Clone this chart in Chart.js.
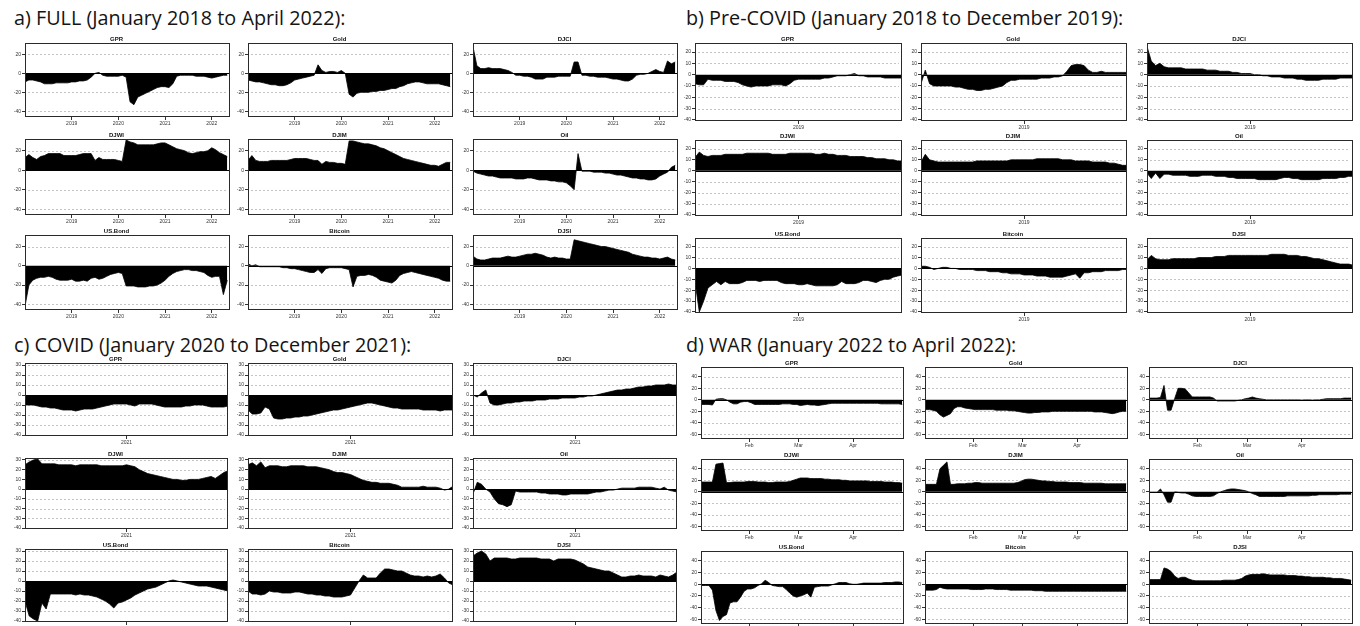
<!DOCTYPE html>
<html><head><meta charset="utf-8">
<script src="https://cdn.jsdelivr.net/npm/chart.js@4.4.1/dist/chart.umd.min.js"></script>
<style>
html,body{margin:0;padding:0;width:1360px;height:626px;overflow:hidden;background:#fff;position:relative}
.pt{position:absolute;font-family:'Open Sans',Lato,sans-serif;font-size:19.8px;line-height:19.8px;color:#141414;white-space:nowrap}
canvas{position:absolute}
</style></head><body>
<div class="pt" style="left:14px;top:7.5px">a) FULL (January 2018 to April 2022):</div>
<div class="pt" style="left:686px;top:7.5px">b) Pre-COVID (January 2018 to December 2019):</div>
<div class="pt" style="left:14px;top:334.5px">c) COVID (January 2020 to December 2021):</div>
<div class="pt" style="left:686px;top:334.5px">d) WAR (January 2022 to April 2022):</div>
<script>
const seriesNames = ['GPR','Gold','DJCI','DJWI','DJIM','Oil','US.Bond','Bitcoin','DJSI'];

// ---- Panel a: months since Jan 2018 ----
const tA = [0,1,2,3,4,5,6,7,8,9,10,11,12,13,14,15,16,17,18,19,20,21,22,23,24,25,26,27,28,29,30,31,32,33,34,35,36,37,38,39,40,41,42,43,44,45,46,47,48,49,50,51,52];
const xTicksA = [12,24,36,48];
const xLabelsA = ['2019','2020','2021','2022'];
const yTicksA = [-40,-20,0,20];
const gprA = [-9,-7,-7,-8,-9,-11,-11,-11,-10,-10, -10,-10,-9,-9,-8,-8,-7,-4,0,1, -2,-3,-3,-3,-3,-2,-4,-30,-33,-25, -23,-21,-19,-17,-15,-14,-14,-15,-11,-3, -2,-2,-2,-2,-3,-3,-3,-4,-5,-4, -3,-2,-2];
const goldA = [-7,-8,-9,-9,-10,-11,-12,-12,-13,-13, -12,-10,-7,-6,-5,-4,-3,-2,9,3, 1,2,2,1,3,0,-22,-25,-21,-20, -20,-20,-19,-19,-18,-18,-17,-16,-16,-14, -13,-11,-10,-9,-9,-10,-11,-11,-11,-11, -12,-13,-14];
const djciA = [28,8,5,5,6,5,5,5,4,3, 1,-2,-2,-3,-3,-4,-6,-6,-6,-4, -4,-4,-3,-3,-3,-3,12,12,-2,-2, -3,-3,-4,-4,-4,-5,-6,-6,-7,-8, -8,-6,-2,-1,-1,0,2,4,2,1, 13,10,12];
const djwiA = [13,16,13,11,14,15,17,17,17,17, 15,15,15,15,16,17,17,17,10,13, 11,11,11,11,10,9,31,29,28,26, 26,26,26,26,27,28,28,26,24,22, 21,20,18,17,18,19,19,20,23,21, 18,16,14];
const djimA = [10,15,10,9,9,9,10,10,10,10, 10,11,12,12,12,12,11,10,10,6, 9,8,8,7,7,6,30,30,29,28, 27,27,26,25,23,22,20,18,16,14, 12,11,10,9,8,7,6,5,5,4, 6,8,8];
const oilA = [-1,-3,-4,-5,-6,-6,-7,-8,-8,-8, -8,-9,-9,-9,-8,-8,-9,-10,-10,-10, -11,-11,-12,-12,-13,-16,-20,17,-1,-1, -1,-2,-2,-2,-3,-3,-4,-5,-5,-6, -7,-8,-8,-9,-9,-10,-10,-9,-6,-4, -2,3,5];
const usbondA = [-42,-20,-15,-13,-12,-12,-11,-12,-14,-15, -15,-15,-14,-16,-16,-15,-16,-13,-12,-14, -13,-11,-9,-8,-7,-8,-21,-21,-21,-22, -22,-22,-21,-21,-20,-18,-15,-11,-8,-6, -5,-4,-4,-5,-5,-6,-7,-10,-12,-11, -11,-30,-15];
const bitcoinA = [2,0,1,-1,-1,-1,-1,-1,-1,-2, -2,-3,-3,-4,-5,-6,-7,-7,-4,-8, -3,-2,-2,-2,-2,-3,-4,-22,-11,-10, -10,-9,-10,-12,-15,-16,-17,-18,-15,-10, -8,-7,-6,-7,-8,-9,-10,-11,-12,-13, -15,-16,-16];
const djsiA = [10,7,6,6,7,8,8,8,9,10, 9,9,10,11,12,12,13,12,11,9, 8,9,8,8,7,7,27,26,25,24, 23,22,21,20,20,19,18,17,16,15, 14,12,11,10,9,9,8,8,7,8, 9,7,6];

// ---- Panel b: months since Jan 2018 (half-month steps) ----
const tB = [0,0.5,1,1.5,2,2.5,3,3.5,4,4.5,5,5.5,6,6.5,7,7.5,8,8.5,9,9.5,10,10.5,11,11.5,12,12.5,13,13.5,14,14.5,15,15.5,16,16.5,17,17.5,18,18.5,19,19.5,20,20.5,21,21.5,22,22.5,23,23.5,24];
const xTicksB = [12];
const xLabelsB = ['2019'];
const yTicksB = [-40,-30,-20,-10,0,10,20];
const gprB = [-8,-9,-9,-4,-5,-5,-5,-6,-6,-6, -7,-9,-10,-11,-10,-10,-10,-10,-9,-9, -9,-10,-8,-5,-4,-4,-4,-4,-4,-4, -3,-3,-2,-1,-1,-1,0,1,-1,-1, -2,-2,-2,-2,-3,-3,-3,-3,-3];
const goldB = [-8,4,-8,-10,-10,-10,-10,-10,-11,-11, -12,-13,-13,-14,-14,-13,-13,-12,-11,-10, -7,-5,-5,-4,-4,-4,-4,-4,-3,-3, -3,-2,-2,-1,3,8,9,9,8,4, 2,2,3,2,2,2,2,2,2];
const djciB = [25,12,8,10,7,6,6,6,6,5, 5,5,5,5,4,4,4,3,3,3, 2,2,1,1,1,0,0,-1,-1,-2, -2,-2,-3,-3,-3,-4,-4,-5,-5,-5, -5,-4,-4,-4,-4,-3,-3,-3,-3];
const djwiB = [12,17,14,13,14,14,14,15,15,15, 15,15,16,16,16,16,16,16,15,15, 15,15,16,16,16,16,16,16,15,15, 16,15,15,14,14,14,13,13,13,13, 12,12,11,11,11,10,10,9,9];
const djimB = [8,15,10,9,8,8,8,8,8,8, 8,8,8,9,9,9,9,9,9,9, 9,10,10,10,10,10,10,11,11,11, 11,11,11,10,10,10,9,9,9,9, 8,8,8,8,7,7,6,5,5];
const oilB = [-2,-7,-2,-7,-3,-3,-4,-4,-4,-4, -5,-5,-5,-4,-4,-4,-5,-5,-5,-6, -6,-7,-7,-7,-7,-7,-8,-8,-8,-8, -8,-7,-6,-6,-7,-7,-8,-8,-8,-8, -8,-7,-7,-7,-7,-6,-6,-5,-5];
const usbondB = [-12,-40,-30,-18,-15,-12,-15,-12,-14,-14, -14,-13,-11,-11,-11,-12,-11,-11,-11,-11, -13,-14,-14,-14,-15,-15,-14,-15,-16,-16, -16,-16,-16,-15,-12,-14,-14,-14,-13,-11, -11,-12,-13,-11,-10,-10,-8,-7,-6];
const bitcoinB = [2,2,1,-1,0,1,1,0,0,-1, -1,-1,-1,-2,-2,-2,-3,-3,-3,-4, -4,-5,-5,-5,-6,-6,-6,-7,-7,-7, -8,-8,-8,-8,-7,-6,-5,-9,-4,-4, -3,-3,-3,-2,-2,-2,-2,-1,-1];
const djsiB = [8,12,9,8,8,8,9,9,9,9, 9,9,10,10,10,10,11,11,11,12, 12,12,12,12,12,12,12,12,12,13, 13,13,13,12,12,12,11,11,10,9, 9,8,7,6,5,4,4,4,3];

// ---- Panel c: months since Jan 2020 (half-month steps) ----
const tC = [0,0.5,1,1.5,2,2.5,3,3.5,4,4.5,5,5.5,6,6.5,7,7.5,8,8.5,9,9.5,10,10.5,11,11.5,12,12.5,13,13.5,14,14.5,15,15.5,16,16.5,17,17.5,18,18.5,19,19.5,20,20.5,21,21.5,22,22.5,23,23.5,24];
const xTicksC = [12];
const xLabelsC = ['2021'];
const yTicksC = [-40,-30,-20,-10,0,10,20,30];
const gprC = [-10,-10,-10,-11,-12,-12,-13,-13,-14,-15, -15,-15,-16,-15,-14,-14,-14,-13,-12,-11, -10,-9,-9,-9,-9,-10,-11,-9,-9,-9, -9,-10,-11,-12,-12,-12,-12,-12,-11,-11, -10,-10,-10,-11,-12,-12,-12,-12,-11];
const goldC = [-15,-19,-19,-18,-12,-14,-23,-24,-24,-23, -23,-22,-22,-21,-21,-20,-19,-18,-17,-16, -15,-15,-14,-13,-12,-11,-10,-9,-8,-8, -9,-10,-11,-12,-13,-13,-14,-14,-14,-14, -14,-15,-15,-15,-15,-16,-15,-15,-15];
const djciC = [0,-2,2,5,-8,-10,-10,-9,-8,-8, -7,-7,-6,-6,-6,-5,-5,-5,-4,-4, -4,-3,-3,-3,-3,-2,-2,-1,-1,0, 1,2,3,4,5,5,6,6,7,8, 8,9,9,10,10,10,11,10,10];
const djwiC = [25,28,30,31,26,26,26,26,25,25, 25,25,24,25,25,25,25,25,24,24, 24,24,24,24,25,24,23,20,18,16, 15,14,13,12,11,10,10,9,9,10, 10,10,11,12,13,11,14,17,19];
const djimC = [25,27,24,28,22,24,24,24,23,23, 24,24,24,24,23,23,23,22,21,20, 18,17,17,16,15,13,11,9,8,7, 7,6,6,6,5,4,2,2,2,2, 2,3,2,2,2,1,-1,0,3];
const oilC = [-5,7,5,0,-3,-10,-15,-16,-18,-16, -2,-3,-3,-3,-3,-3,-4,-4,-5,-5, -5,-6,-6,-5,-5,-5,-5,-5,-4,-3, -3,-2,-1,-1,0,1,1,1,1,2, 2,2,2,1,0,2,-1,-2,-3];
const usbondC = [-20,-35,-38,-40,-22,-28,-13,-13,-13,-13, -13,-13,-14,-13,-14,-14,-15,-16,-18,-20, -23,-27,-22,-21,-19,-17,-14,-12,-10,-8, -7,-6,-4,-2,0,1,0,-1,-2,-3, -4,-5,-5,-5,-6,-7,-8,-9,-10];
const bitcoinC = [-10,-13,-13,-14,-13,-10,-11,-11,-12,-12, -12,-11,-11,-12,-13,-13,-14,-14,-15,-15, -16,-16,-16,-15,-14,-7,0,6,3,3, 3,8,12,12,11,10,10,8,6,5, 5,4,5,4,5,7,3,-2,-4];
const djsiC = [25,28,30,27,20,23,23,23,23,22, 22,23,23,23,23,23,22,22,22,20, 22,22,22,22,21,19,17,14,13,12, 11,10,10,8,6,4,4,5,5,6, 5,5,5,4,6,5,4,6,9];

// ---- Panel d: days since 1 Jan 2022 ----
const tD = [4,6,8,10,12,14,16,18,20,22,24,26,28,30,32,34,36,38,40,42,44,46,48,50,52,54,56,58,60,62,64,66,68,70,72,74,76,78,80,82,84,86,88,90,92,94,96,98,100,102,104,106,108,110,112,114,116,118];
const xTicksD = [31,59,90];
const xLabelsD = ['Feb','Mar','Apr'];
const yTicksD = [-60,-40,-20,0,20,40];
const gprD = [-8,-8,-8,-9,1,2,2,0,-4,-7, -7,-4,-3,-3,-5,-8,-8,-8,-8,-8, -8,-8,-8,-7,-7,-7,-8,-8,-10,-9, -8,-9,-9,-10,-9,-8,-7,-6,-6,-6, -6,-6,-6,-6,-6,-6,-6,-6,-6,-6, -6,-7,-7,-7,-7,-7,-7,-8];
const goldD = [-17,-17,-18,-20,-26,-30,-27,-24,-15,-12, -12,-14,-15,-16,-17,-17,-17,-17,-17,-17, -18,-18,-18,-18,-19,-19,-20,-21,-22,-23, -23,-22,-22,-21,-21,-21,-20,-20,-20,-20, -20,-20,-20,-20,-20,-20,-20,-20,-21,-21, -21,-22,-23,-24,-23,-21,-20,-20];
const djciD = [3,3,3,4,25,-18,-18,2,20,20, 19,12,5,5,5,5,5,5,3,-2, -2,-2,-2,-2,-2,-1,0,2,3,5, 3,2,1,0,0,0,0,0,0,0, 0,0,0,-1,0,0,-1,0,0,1, 2,2,2,2,2,3,3,3];
const djwiD = [17,17,17,17,48,49,50,16,16,17, 17,17,17,18,18,18,17,17,17,16, 16,17,17,17,17,18,20,22,24,24, 24,23,23,23,23,22,22,21,21,21, 20,20,19,19,19,19,19,19,18,18, 18,18,17,17,17,16,16,15];
const djimD = [13,13,13,13,40,46,52,13,13,14, 14,14,15,15,16,16,15,15,15,15, 15,15,15,15,15,15,16,18,21,22, 22,21,20,19,19,18,18,17,17,17, 17,16,16,16,16,15,15,15,15,15, 15,14,14,14,14,14,14,14];
const oilD = [-1,-1,-1,5,-5,-18,-18,0,-1,-2, -2,-4,-7,-8,-8,-8,-8,-8,-7,-3, 0,2,4,5,5,4,3,2,0,-3, -5,-8,-8,-8,-8,-8,-8,-8,-8,-7, -7,-7,-7,-7,-7,-7,-6,-6,-5,-5, -5,-5,-5,-5,-4,-4,-4,-4];
const usbondD = [-2,-2,-2,-10,-45,-62,-55,-52,-32,-30, -30,-22,-12,-8,-8,-6,-2,1,7,3, -2,-3,-4,-4,-9,-15,-20,-22,-20,-18, -15,-22,-5,-4,-3,-3,-3,-1,1,3, 3,3,1,0,0,1,2,2,2,2, 2,2,3,3,3,4,4,3];
const bitcoinD = [-10,-10,-10,-9,-5,-7,-8,-8,-8,-8, -8,-8,-8,-9,-9,-9,-9,-8,-8,-8, -9,-9,-9,-9,-10,-10,-10,-10,-10,-10, -10,-11,-11,-11,-12,-12,-12,-12,-12,-12, -12,-12,-12,-12,-12,-12,-12,-12,-12,-12, -12,-12,-12,-12,-12,-12,-12,-12];
const djsiD = [8,8,8,8,28,26,22,14,10,12, 12,9,7,6,6,6,6,6,6,6, 6,7,7,7,7,8,10,14,16,17, 17,17,18,17,16,16,16,16,16,15, 15,15,14,14,13,13,12,12,12,12, 11,11,10,10,10,9,8,7];

// ---- layout of the four panels (plot-box edges in page pixels) ----
const panels = [
  { t:tA, xTicks:xTicksA, xLabels:xLabelsA, yTicks:yTicksA, xMin:0, xMax:52.7, yMin:-46, yMax:32,
    cols:[[25,230],[248,453],[473,678]], rows:[[43,117],[139,215],[235,310]],
    series:[gprA,goldA,djciA,djwiA,djimA,oilA,usbondA,bitcoinA,djsiA] },
  { t:tB, xTicks:xTicksB, xLabels:xLabelsB, yTicks:yTicksB, xMin:0, xMax:24, yMin:-41, yMax:28,
    cols:[[695,902],[921,1127],[1147,1353]], rows:[[43,121],[140,216],[238,313]],
    series:[gprB,goldB,djciB,djwiB,djimB,oilB,usbondB,bitcoinB,djsiB] },
  { t:tC, xTicks:xTicksC, xLabels:xLabelsC, yTicks:yTicksC, xMin:0, xMax:24, yMin:-41, yMax:32,
    cols:[[25,228],[248,453],[473,677]], rows:[[363,436],[458,529],[549,622]],
    series:[gprC,goldC,djciC,djwiC,djimC,oilC,usbondC,bitcoinC,djsiC] },
  { t:tD, xTicks:xTicksD, xLabels:xLabelsD, yTicks:yTicksD, xMin:3.5, xMax:119, yMin:-68, yMax:57,
    cols:[[701,904],[925,1128],[1149,1353]], rows:[[367,439],[459,531],[551,624]],
    series:[gprD,goldD,djciD,djwiD,djimD,oilD,usbondD,bitcoinD,djsiD] }
];

Chart.defaults.font.family = "'Liberation Sans', Arial, sans-serif";
Chart.defaults.animation = false;

const framePlugin = {
  id: 'frame',
  beforeDatasetsDraw(chart, args, opts) {
    const { ctx, chartArea: a } = chart;
    const y = chart.scales.y;
    ctx.save();
    ctx.strokeStyle = '#c4c4c4';
    ctx.lineWidth = 1;
    ctx.setLineDash([2, 2]);
    for (const v of opts.ticks) {
      if (v === 0) continue;
      const py = Math.round(y.getPixelForValue(v)) + 0.5;
      ctx.beginPath(); ctx.moveTo(a.left + 3, py); ctx.lineTo(a.right - 3, py); ctx.stroke();
    }
    ctx.restore();
  },
  afterDatasetsDraw(chart) {
    const { ctx, chartArea: a } = chart;
    const y = chart.scales.y;
    ctx.save();
    const p0 = Math.round(y.getPixelForValue(0)) + 0.5;
    ctx.strokeStyle = '#000'; ctx.lineWidth = 1;
    ctx.beginPath(); ctx.moveTo(a.left, p0); ctx.lineTo(a.right, p0); ctx.stroke();
    ctx.strokeStyle = '#2a2a2a';
    ctx.strokeRect(Math.round(a.left) + 0.5, Math.round(a.top) + 0.5,
                   Math.round(a.right - a.left) - 1, Math.round(a.bottom - a.top) - 1);
    ctx.restore();
  }
};

const W_Y = 22, H_T = 8, H_X = 12, PAD_R = 3;

function makeChart(P, name, vals, xr, yr) {
  const cv = document.createElement('canvas');
  const w = (xr[1] - xr[0]) + W_Y + PAD_R;
  const h = (yr[1] - yr[0]) + H_T + H_X;
  cv.width = w; cv.height = h;
  cv.style.left = (xr[0] - W_Y) + 'px';
  cv.style.top = (yr[0] - H_T) + 'px';
  cv.style.width = w + 'px'; cv.style.height = h + 'px';
  document.body.appendChild(cv);
  new Chart(cv, {
    type: 'line',
    data: { datasets: [{
      data: P.t.map((x, i) => ({ x: x, y: vals[i] })),
      fill: 'origin', backgroundColor: '#000', borderColor: '#000',
      borderWidth: 0.8, pointRadius: 0, tension: 0
    }]},
    options: {
      responsive: false, devicePixelRatio: 1, animation: false,
      layout: { padding: { left: 0, right: PAD_R, top: 0, bottom: 0 } },
      plugins: {
        legend: { display: false }, tooltip: { enabled: false },
        title: { display: true, text: name, color: '#111',
                 font: { size: 6, weight: 'bold', lineHeight: 1 },
                 padding: { top: 1, bottom: 1 } },
        frame: { ticks: P.yTicks }
      },
      scales: {
        x: {
          type: 'linear', min: P.xMin, max: P.xMax,
          afterBuildTicks: s => { s.ticks = P.xTicks.map(v => ({ value: v })); },
          afterFit: s => { s.height = H_X; },
          ticks: { autoSkip: false, maxRotation: 0, color: '#333', padding: 1,
                   font: { size: 5 }, callback: (v, i) => P.xLabels[i] },
          grid: { drawOnChartArea: false, drawTicks: true, tickLength: 3, color: '#333' },
          border: { display: false }
        },
        y: {
          min: P.yMin, max: P.yMax,
          afterBuildTicks: s => { s.ticks = P.yTicks.map(v => ({ value: v })); },
          afterFit: s => { s.width = W_Y; },
          ticks: { autoSkip: false, color: '#333', padding: 1,
                   font: { size: 5 }, callback: (v, i) => String(P.yTicks[i]) },
          grid: { drawOnChartArea: false, drawTicks: true, tickLength: 3, color: '#333' },
          border: { display: false }
        }
      }
    },
    plugins: [framePlugin]
  });
}

panels.forEach(P => {
  P.series.forEach((vals, k) => {
    const r = Math.floor(k / 3), c = k % 3;
    makeChart(P, seriesNames[k], vals, P.cols[c], P.rows[r]);
  });
});
</script>
</body></html>
